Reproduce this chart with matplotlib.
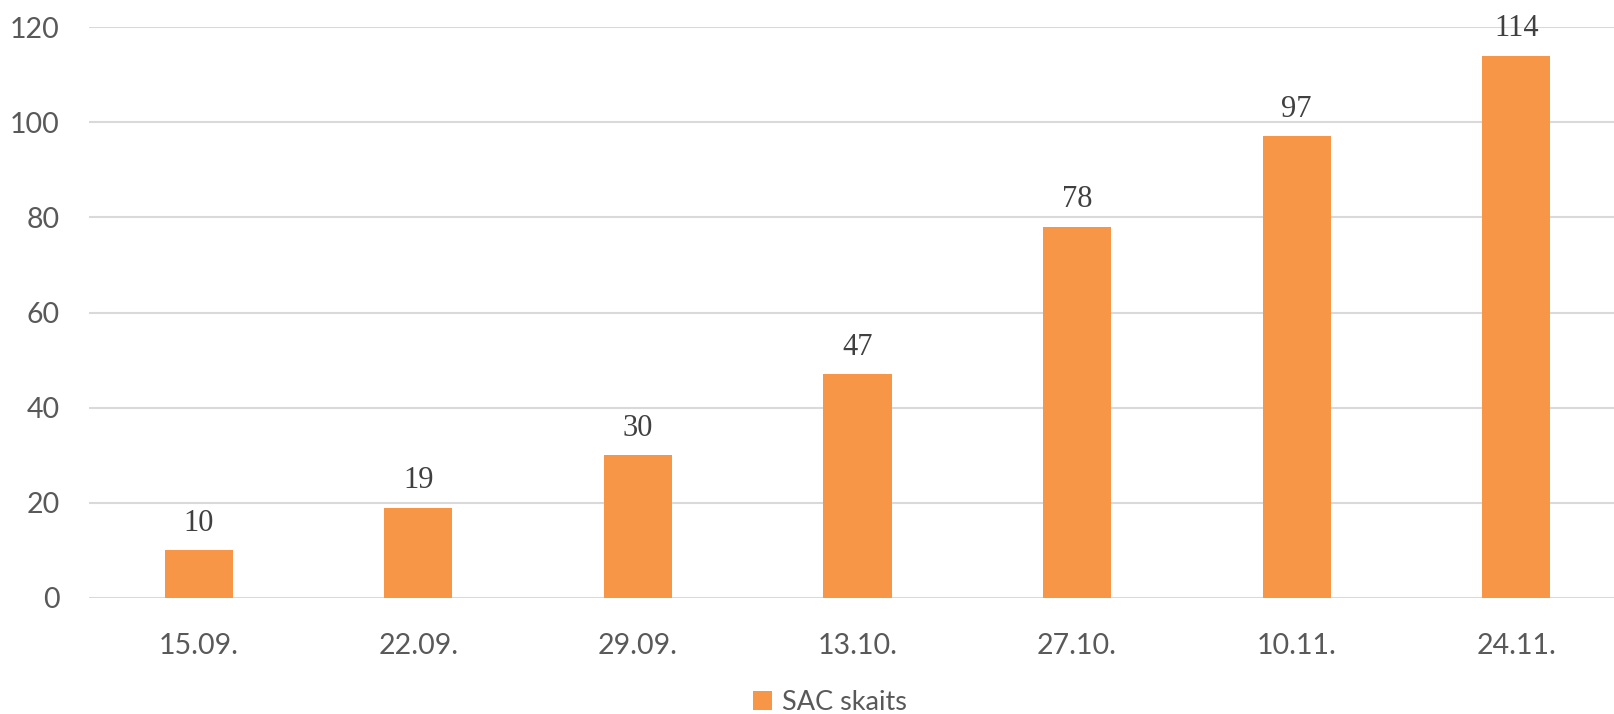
import numpy as np
import matplotlib.pyplot as plt

dates = ["15.09.", "22.09.", "29.09.", "13.10.", "27.10.", "10.11.", "24.11."]
sac_count = [10, 19, 30, 47, 78, 97, 114]
yticks = [0, 20, 40, 60, 80, 100, 120]

W, H = 1615, 714
fig = plt.figure(figsize=(W / 100, H / 100), dpi=100)
# axes run a little past the right edge, like the cropped original
ax = fig.add_axes([89 / W, 1 - 598 / H, (1626 - 89) / W, (598 - 27) / H])

x = np.arange(len(dates))
bars = ax.bar(x, sac_count, width=0.31, color="#F79646", label="SAC skaits", zorder=3)

for xi, v in zip(x, sac_count):
    ax.annotate(str(v), (xi, v), xytext=(0, 9), textcoords="offset points",
                ha="center", va="bottom", fontsize=22, color="#404040",
                family="Liberation Serif")

ax.set_xlim(-0.5, len(dates) - 0.5)
ax.set_ylim(0, 120)
ax.set_yticks(yticks)
ax.set_xticks(x)
ax.set_xticklabels(dates)
ax.grid(axis="y", color="#D9D9D9", linewidth=1.5, zorder=0)
for s in ax.spines.values():
    s.set_visible(False)
ax.tick_params(length=0, labelsize=20.5, labelcolor="#595959")
ax.tick_params(axis="y", pad=21)
ax.tick_params(axis="x", pad=25)
for lab in ax.get_xticklabels() + ax.get_yticklabels():
    lab.set_family("Lato")

fig.legend(handles=[bars], labels=["SAC skaits"], loc="center",
           bbox_to_anchor=(830 / W, 1 - 702 / H), frameon=False,
           prop={"family": "Lato", "size": 19.5}, labelcolor="#595959",
           handlelength=0.7, handleheight=0.7, handletextpad=0.4)

fig.savefig("out.png", dpi=100)
